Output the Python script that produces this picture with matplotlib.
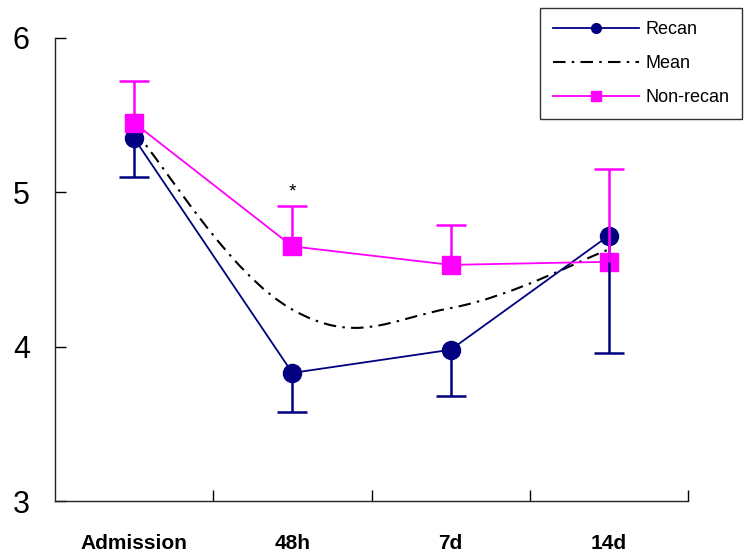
import numpy as np
import matplotlib.pyplot as plt
from matplotlib.path import Path
from matplotlib.patches import PathPatch
from matplotlib.lines import Line2D

plt.rcParams['font.family'] = ['Liberation Sans', 'DejaVu Sans']

# values
categories = ['Admission', '48h', '7d', '14d']
recan = [5.35, 3.83, 3.98, 4.72]
recan_low = [5.10, 3.58, 3.68, 3.96]
nonrecan = [5.45, 4.65, 4.53, 4.55]
nonrecan_high = [5.72, 4.91, 4.79, 5.15]
mean = [5.40, 4.24, 4.25, 4.63]

navy = '#000080'
magenta = '#FF00FF'
x = np.arange(len(categories))

fig = plt.figure(figsize=(7.46, 5.57), dpi=100)
ax = fig.add_axes([0.0737, 0.1005, 0.8486, 0.8313])

# smoothed mean line (bezier through the points, like Excel's smooth line)
pts = np.column_stack([x, mean]).astype(float)
n = len(pts)
verts = [pts[0]]
codes = [Path.MOVETO]
for i in range(n - 1):
    p_prev = pts[max(i - 1, 0)]
    p_next2 = pts[min(i + 2, n - 1)]
    c1 = pts[i] + (pts[i + 1] - p_prev) / 5
    c2 = pts[i + 1] - (p_next2 - pts[i]) / 5
    verts += [c1, c2, pts[i + 1]]
    codes += [Path.CURVE4] * 3
mean_patch = PathPatch(Path(verts, codes), fill=False, edgecolor='black',
                       lw=1.5, linestyle=(0, (6, 3, 1.2, 3)), zorder=2)
ax.add_patch(mean_patch)

# recan
ax.plot(x, recan, color=navy, lw=1.3, marker='o', ms=13, zorder=3)
ax.vlines(x, recan_low, recan, color=navy, lw=1.8, zorder=5)
ax.hlines(recan_low, x - 0.095, x + 0.095, color=navy, lw=1.8, zorder=5)

# non-recan
ax.plot(x, nonrecan, color=magenta, lw=1.3, marker='s', ms=13, zorder=4)
ax.vlines(x, nonrecan, nonrecan_high, color=magenta, lw=1.8, zorder=5)
ax.hlines(nonrecan_high, x - 0.095, x + 0.095, color=magenta, lw=1.8, zorder=5)

ax.text(1, 4.95, '*', ha='center', va='bottom', fontsize=14)

ax.set_xlim(-0.5, 3.5)
ax.set_ylim(3, 6)
ax.spines['top'].set_visible(False)
ax.spines['right'].set_visible(False)
for s in ['left', 'bottom']:
    ax.spines[s].set_color('#222222')
    ax.spines[s].set_linewidth(1)

ax.set_yticks([3, 4, 5, 6])
ax.tick_params(axis='y', direction='in', length=8, width=1, pad=18, labelsize=22)
ax.set_xticks(x)
ax.set_xticklabels(categories, fontsize=15, fontweight='bold')
ax.set_xticks([0.5, 1.5, 2.5, 3.5], minor=True)
ax.tick_params(axis='x', which='major', length=0, pad=24)
ax.tick_params(axis='x', which='minor', direction='in', length=8, width=1)

handles = [
    Line2D([], [], color=navy, lw=1.3, marker='o', ms=7),
    Line2D([], [], color='black', lw=1.5, linestyle=(0, (6, 3, 1.2, 3))),
    Line2D([], [], color=magenta, lw=1.3, marker='s', ms=7),
]
leg = fig.legend(handles, ['Recan', 'Mean', 'Non-recan'], loc='upper left',
                 bbox_to_anchor=(0.724, 0.985), frameon=True, fancybox=False,
                 edgecolor='#333333', framealpha=1, handlelength=4.8,
                 fontsize=13, borderaxespad=0, borderpad=0.7, labelspacing=0.95,
                 handletextpad=0.35)
leg.get_frame().set_linewidth(1)

fig.savefig('out.png', dpi=100)
